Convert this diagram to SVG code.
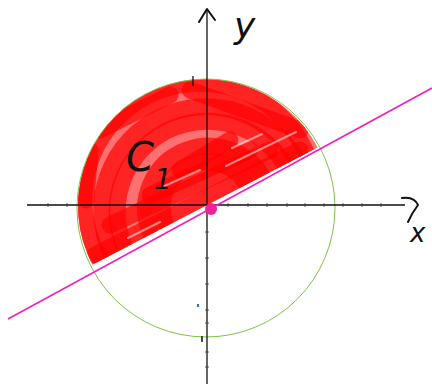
<svg xmlns="http://www.w3.org/2000/svg" width="432" height="384" viewBox="0 0 432 384">
  <style>
    .axis{stroke:#111;stroke-width:1.3;fill:none}
    .tick{stroke:#333;stroke-width:0.8}
    .hand{stroke:#111;stroke-width:2;fill:none;stroke-linecap:round;stroke-linejoin:round}
    .scrib{stroke:#ff0000;stroke-opacity:0.68;stroke-width:17;fill:none;stroke-linecap:round}
    .streak{stroke:#fff;stroke-opacity:0.5;stroke-width:2;fill:none;stroke-linecap:round}
    .lbl{font-family:"DejaVu Sans","Liberation Sans",sans-serif;font-style:italic;fill:#111}
  </style>
  <defs>
    <clipPath id="seg">
      <path d="M 92.3 264.7 L 317.6 147.4 A 127 127 0 0 0 92.3 264.7 Z"/>
    </clipPath>
  </defs>
  <rect width="432" height="384" fill="#fff"/>

  <g id="region" clip-path="url(#seg)">
    <rect x="70" y="70" width="260" height="200" fill="#ff7070"/>
    <path class="scrib" d="M 309 160 A 116 116 0 1 0 105 266"/>
    <path class="scrib" d="M 300 166 A 104 104 0 1 0 112 256"/>
    <path class="scrib" d="M 291 177 A 90 90 0 1 0 124 246"/>
    <path class="scrib" d="M 267 186 A 62 62 0 1 0 150 232"/>
    <path class="scrib" d="M 250 192 A 45 45 0 1 0 165 222"/>
    <path class="scrib" d="M 300 100 A 126 126 0 0 0 100 110"/>
    <path class="scrib" d="M 95 255 L 300 150"/>
    <path class="scrib" d="M 110 225 L 270 150"/>
    <path class="scrib" d="M 150 195 L 250 150"/>
    <path class="scrib" d="M 86 200 L 90 150"/>
    <path class="scrib" d="M 190 90 L 300 130"/>
    <path class="scrib" d="M 180 170 L 230 140"/>
    <path class="scrib" d="M 100 130 L 170 95"/>
    <path class="streak" d="M 160 188 L 200 170"/>
    <path class="streak" d="M 226 166 L 296 132"/>
    <path class="streak" d="M 232 148 L 262 134"/>
    <path class="streak" d="M 128 238 L 160 222"/>
  </g>

  <g id="circle">
    <circle cx="206" cy="208" r="129" fill="none" stroke="#7cc34a" stroke-width="1"/>
  </g>

  <g id="axes">
    <line class="axis" x1="27" y1="205" x2="405" y2="205"/>
    <line class="axis" x1="207" y1="9" x2="207" y2="384"/>
    <path class="hand" d="M 199 22 L 207 9 L 215 20"/>
    <path class="hand" d="M 402 198 Q 414 196 418 205 Q 412 213 408 222"/>
    <g class="tick">
      <line x1="228" y1="203" x2="228" y2="207"/>
      <line x1="248" y1="203" x2="248" y2="207"/>
      <line x1="267" y1="203" x2="267" y2="207"/>
      <line x1="287" y1="203" x2="287" y2="207"/>
      <line x1="305" y1="203" x2="305" y2="207"/>
      <line x1="324" y1="203" x2="324" y2="207"/>
      <line x1="343" y1="203" x2="343" y2="207"/>
      <line x1="362" y1="203" x2="362" y2="207"/>
      <line x1="381" y1="203" x2="381" y2="207"/>
      <line x1="48" y1="203" x2="48" y2="207"/>
      <line x1="67" y1="203" x2="67" y2="207"/>
      <line x1="205" y1="232" x2="209" y2="232"/>
      <line x1="205" y1="258" x2="209" y2="258"/>
      <line x1="205" y1="284" x2="209" y2="284"/>
      <line x1="205" y1="310" x2="209" y2="310"/>
      <line x1="205" y1="323" x2="209" y2="323"/>
      <line x1="205" y1="352" x2="209" y2="352"/>
      <line x1="205" y1="367" x2="209" y2="367"/>
    </g>
    <line x1="193" y1="76" x2="193" y2="86" stroke="#111" stroke-width="1.3"/>
    <line x1="202" y1="336" x2="202" y2="342" stroke="#111" stroke-width="1.5"/>
    <rect x="197" y="304" width="2" height="3" fill="#2a6fe0"/>
  </g>

  <g id="line">
    <line x1="8" y1="319" x2="432" y2="88" stroke="#f020c0" stroke-width="1.6"/>
    <circle cx="211" cy="209" r="6" fill="#ee2299"/>
  </g>

  <g id="labels">
    <text class="lbl" x="126" y="171" font-size="40">C<tspan font-size="28" dy="18">1</tspan></text>
    <text class="lbl" x="234" y="38" font-size="36">y</text>
    <text class="lbl" x="410" y="242" font-size="26">x</text>
  </g>
</svg>
